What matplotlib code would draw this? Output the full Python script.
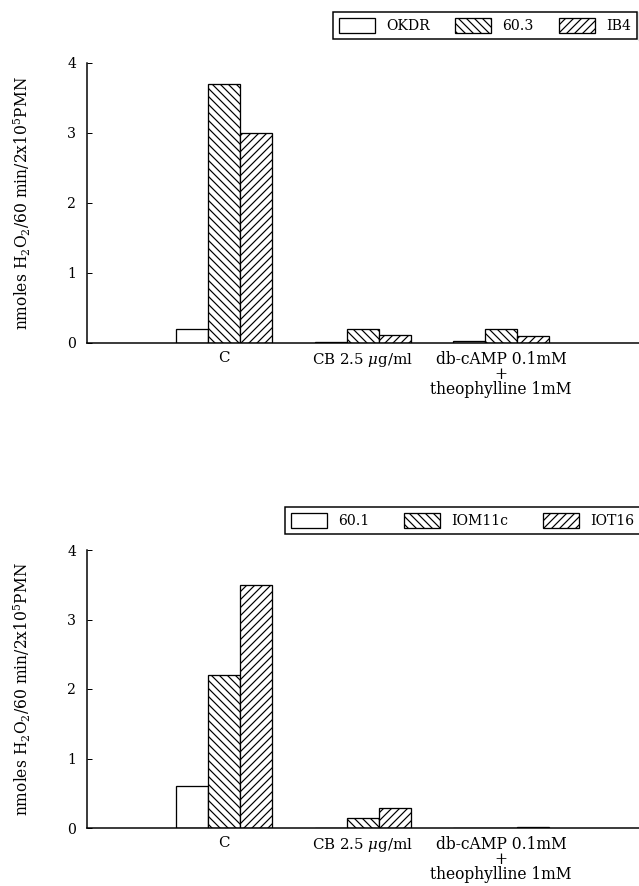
import matplotlib
matplotlib.use("Agg")
import matplotlib.pyplot as plt
from matplotlib.lines import Line2D

# ---------------- data ----------------
categories = ["C", "CB 2.5 $\\mu$g/ml", "db-cAMP 0.1mM\n+\ntheophylline 1mM"]

top_series = ["OKDR", "60.3", "IB4"]
top_okdr = [0.20, 0.01, 0.03]
top_603 = [3.70, 0.20, 0.20]
top_ib4 = [3.00, 0.11, 0.10]

bot_series = ["60.1", "IOM11c", "IOT16"]
bot_601 = [0.60, 0.00, 0.00]
bot_iom = [2.20, 0.15, 0.00]
bot_iot = [3.50, 0.29, 0.01]

yticks = [0, 1, 2, 3, 4]
ylabel = "nmoles H$_2$O$_2$/60 min/2x10$^5$PMN"

# ---------------- style ----------------
DPI = 72
W, H = 639, 886
plt.rcParams["hatch.linewidth"] = 1.2
plt.rcParams["mathtext.fontset"] = "dejavuserif"
plt.rcParams["font.family"] = ["DejaVu Serif"]

fig = plt.figure(figsize=(W / DPI, H / DPI), dpi=DPI)

hatches = ["", "\\\\\\", "///"]
bw = 0.231


def make_panel(ax_rect, vals, names, leg_box):
    ax = fig.add_axes(ax_rect)
    xs = list(range(len(categories)))
    bars = []
    for k, (v, h) in enumerate(zip(vals, hatches)):
        pos = [x + (k - 1) * bw for x in xs]
        b = ax.bar(pos, v, width=bw, facecolor="white", edgecolor="black",
                   linewidth=1.3, hatch=h)
        bars.append(b)
    ax.set_xlim(-0.989, 2.996)
    ax.set_ylim(0, 4)
    ax.set_yticks(yticks)
    ax.set_yticklabels([str(t) for t in yticks], fontsize=14)
    ax.tick_params(axis="y", direction="in", length=5, width=1, pad=11)
    ax.set_xticks(xs)
    ax.set_xticklabels(categories, fontsize=15, linespacing=0.85)
    ax.get_xticklabels()[2].set_fontsize(15.5)
    ax.tick_params(axis="x", length=0, pad=8)
    for s in ["top", "right"]:
        ax.spines[s].set_visible(False)
    for s in ["left", "bottom"]:
        ax.spines[s].set_linewidth(1.5)
    ax.set_ylabel(ylabel, fontsize=15.5)
    ax.yaxis.set_label_coords(-0.097, 0.5)

    x0, y0, x1, y1 = leg_box
    leg = ax.legend(bars, names, ncol=3, loc="upper left",
                    bbox_to_anchor=(x0 / W, 1 - y0 / H, (x1 - x0) / W, 0),
                    bbox_transform=fig.transFigure, mode="expand",
                    borderaxespad=0, fontsize=14, handlelength=2.6,
                    handleheight=1.3, handletextpad=0.8, columnspacing=1.0,
                    borderpad=0.4, fancybox=False, framealpha=1,
                    edgecolor="black")
    leg.get_frame().set_linewidth(1.5)
    return ax


make_panel([87 / W, 1 - 343 / H, 1 - 87 / W, 280 / H],
           [top_okdr, top_603, top_ib4], top_series, (333, 12, 637, 39))
make_panel([87 / W, 1 - 828 / H, 1 - 87 / W, 278 / H],
           [bot_601, bot_iom, bot_iot], bot_series, (285, 507, 640, 536))

# double rule at the right edge of the upper legend
fig.add_artist(Line2D([638.5 / W, 638.5 / W], [1 - 12 / H, 1 - 40 / H],
                      color="black", linewidth=1.2,
                      transform=fig.transFigure))

fig.savefig("out.png", dpi=DPI)
